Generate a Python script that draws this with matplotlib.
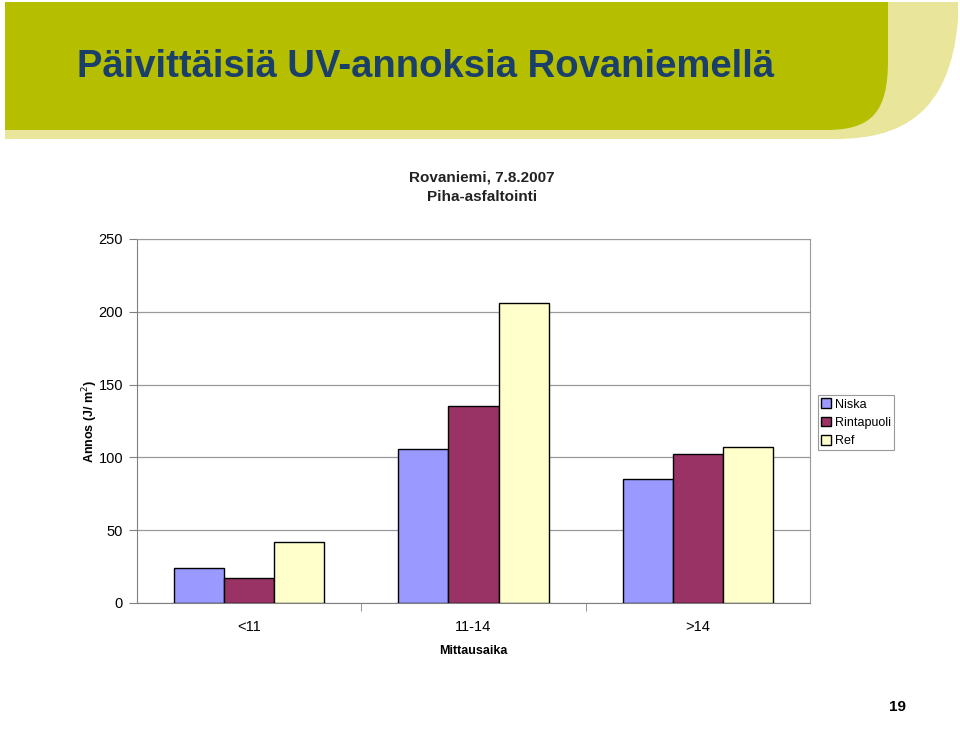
import matplotlib.pyplot as plt
import numpy as np
from matplotlib.path import Path
from matplotlib.patches import PathPatch

categories = ["<11", "11-14", ">14"]
series = ["Niska", "Rintapuoli", "Ref"]
niska = [24, 106, 85]
rintapuoli = [17, 135, 102]
ref = [42, 206, 107]
colors = ["#9999FF", "#993366", "#FFFFCC"]

fig = plt.figure(figsize=(9.6, 7.32), dpi=100)
plt.rcParams['font.family'] = ['Liberation Sans', 'DejaVu Sans']

# banner in pixel coordinates
bg = fig.add_axes([0, 0, 1, 1])
bg.set_xlim(0, 960)
bg.set_ylim(732, 0)
bg.axis('off')

C = Path.CURVE4
light = Path([(5, 2), (958, 2), (958, 20), (950, 115), (900, 139), (835, 139), (5, 139), (5, 2)],
             [Path.MOVETO, Path.LINETO, Path.LINETO, C, C, C, Path.LINETO, Path.CLOSEPOLY])
bg.add_patch(PathPatch(light, facecolor="#E9E59B", edgecolor="none"))
green = Path([(5, 2), (888, 2), (888, 60), (888, 112), (872, 130), (826, 130), (5, 130), (5, 2)],
             [Path.MOVETO, Path.LINETO, Path.LINETO, C, C, C, Path.LINETO, Path.CLOSEPOLY])
bg.add_patch(PathPatch(green, facecolor="#B5BF00", edgecolor="none"))

fig.text(77 / 960, 1 - 67 / 732, "Päivittäisiä UV-annoksia Rovaniemellä",
         fontsize=27.5, fontweight='bold', color="#1B3F6B", va='center', ha='left')
fig.text(482 / 960, 1 - 178 / 732, "Rovaniemi, 7.8.2007", fontsize=11,
         fontweight='bold', color="#222222", ha='center', va='center')
fig.text(482 / 960, 1 - 197 / 732, "Piha-asfaltointi", fontsize=11,
         fontweight='bold', color="#222222", ha='center', va='center')
fig.text(898 / 960, 1 - 707 / 732, "19", fontsize=11, fontweight='bold',
         ha='center', va='center')

ax = fig.add_axes([137 / 960, 1 - 603 / 732, 673 / 960, 364 / 732])
x = np.arange(len(categories))
w = 0.223
for i, (vals, name) in enumerate(zip([niska, rintapuoli, ref], series)):
    ax.bar(x + (i - 1) * w, vals, width=w, color=colors[i], edgecolor='black',
           linewidth=1, label=name, zorder=3)

ax.set_xlim(-0.5, 2.5)
ax.set_ylim(0, 250)
ax.set_yticks(range(0, 251, 50))
ax.yaxis.grid(True, color="#9A9A9A", linewidth=0.9, zorder=0)
ax.set_xticks(x)
ax.set_xticklabels(categories, fontsize=10.5)
ax.set_xticks([0.5, 1.5], minor=True)
ax.tick_params(axis='x', which='major', length=0, pad=12)
ax.tick_params(axis='x', which='minor', length=6, color="#808080")
ax.tick_params(axis='y', labelsize=10.5, length=6, color="#808080", pad=4)
for s in ['top', 'right']:
    ax.spines[s].set_color("#9A9A9A")
for s in ['left', 'bottom']:
    ax.spines[s].set_color("#808080")
ax.set_xlabel("Mittausaika", fontsize=9, fontweight='bold', labelpad=8)
ax.set_ylabel("Annos (J/ m$^2$)", fontsize=9, fontweight='bold')
ax.yaxis.set_label_coords(-0.055, 0.5)

leg = ax.legend(loc='center left', bbox_to_anchor=(1.012, 0.495), fontsize=9,
                frameon=True, fancybox=False, edgecolor="#808080",
                handlelength=0.8, handleheight=0.8, handletextpad=0.3,
                borderpad=0.25, labelspacing=0.5, borderaxespad=0)
leg.get_frame().set_linewidth(0.8)

fig.savefig("out.png", dpi=100)
